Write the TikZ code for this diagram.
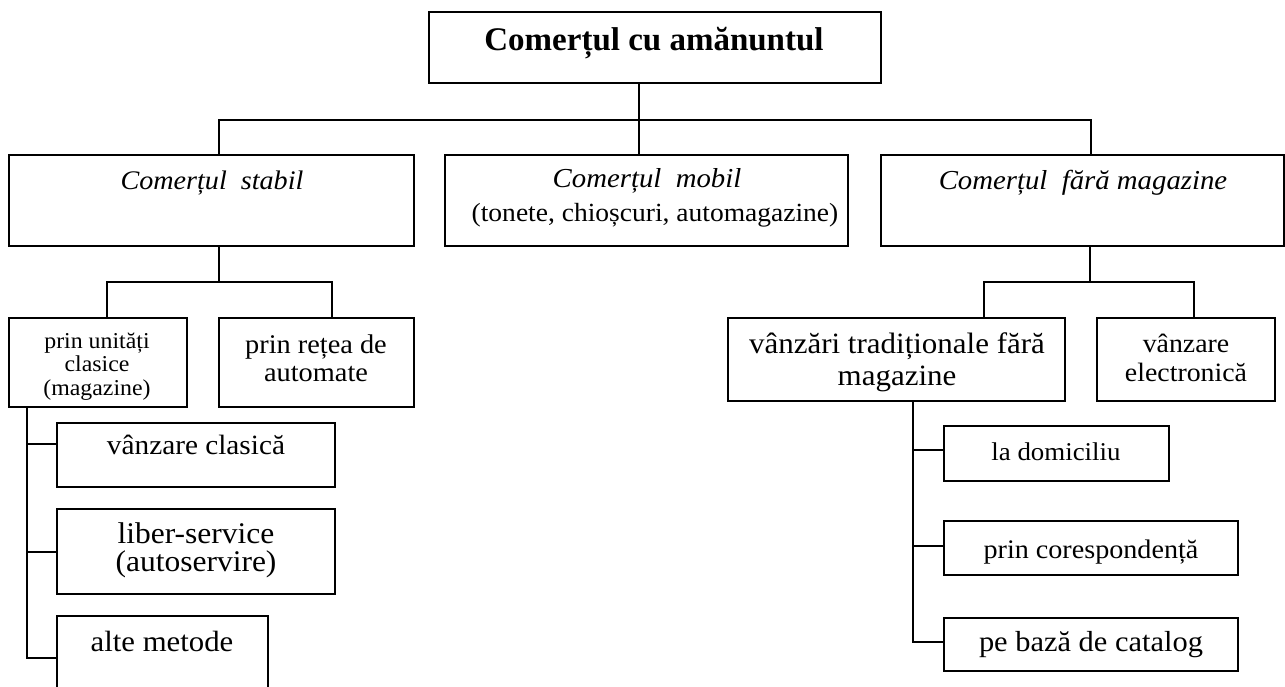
\documentclass[tikz,border=0pt]{standalone}
\usepackage{fontspec}
\setmainfont[FakeStretch=1.05]{Liberation Serif}
\newfontfamily\titlefont{Liberation Serif}
\newcommand\fsz[1]{\fontsize{#1}{#1}\selectfont}
% rectangle node from its corners (x1,y1) to (x2,y2)
\newcommand\boxnode[5]{\node[box, minimum width={#4-#2}, minimum height={#5-#3}] (#1) at ({(#2+#4)/2},{(#3+#5)/2}) {};}
\tikzset{
  box/.style={draw=black, line width=1.6pt, inner sep=0pt, outer sep=0pt},
  txt/.style={inner sep=0pt, outer sep=0pt, anchor=base, text=black},
  link/.style={draw=black, line width=1.6pt},
}
\begin{document}
\begin{tikzpicture}[x=1pt, y=-1pt]
\clip (0,0) rectangle (1285,686);
\fill[white] (0,0) rectangle (1285,686);

% boxes
\boxnode{root}{429}{12}{881}{83}
\boxnode{stabil}{9}{155}{414}{246}
\boxnode{mobil}{445}{155}{848}{246}
\boxnode{fara}{881}{155}{1284}{246}
\boxnode{unit}{9}{318}{187}{407}
\boxnode{retea}{219}{318}{414}{407}
\boxnode{trad}{728}{318}{1065}{401}
\boxnode{elec}{1097}{318}{1275}{401}
\boxnode{clasica}{57}{423}{335}{487}
\boxnode{liber}{57}{509}{335}{594}
\boxnode{alte}{57}{616}{268}{700}
\boxnode{domic}{944}{426}{1169}{481}
\boxnode{coresp}{944}{521}{1238}{575}
\boxnode{catalog}{944}{618}{1238}{671}

% texts
\node[txt, font=\titlefont\bfseries\fsz{33}] (tRoot) at (654,50) {Comerțul cu amănuntul};
\node[txt, font=\itshape\fsz{26.8}] (tStabil) at (212,189) {Comerțul~~stabil};
\node[txt, font=\itshape\fsz{27.4}] (tMobil1) at (647,187) {Comerțul~~mobil};
\node[txt, font=\fsz{26.2}] (tMobil2) at (655,221) {(tonete, chioșcuri, automagazine)};
\node[txt, font=\itshape\fsz{27.4}] (tFara) at (1083,189) {Comerțul~~fără magazine};
\node[txt, font=\fsz{22.7}] (tUnit1) at (97,348) {prin unități};
\node[txt, font=\fsz{22.7}] (tUnit2) at (97,371.5) {clasice};
\node[txt, font=\fsz{22.7}] (tUnit3) at (97,395) {(magazine)};
\node[txt, font=\fsz{27}] (tRetea1) at (316,353) {prin rețea de};
\node[txt, font=\fsz{27}] (tRetea2) at (316,381) {automate};
\node[txt, font=\fsz{29.5}] (tTrad1) at (897,353) {vânzări tradiționale fără};
\node[txt, font=\fsz{29.5}] (tTrad2) at (897,385) {magazine};
\node[txt, font=\fsz{26.5}] (tElec1) at (1186,352) {vânzare};
\node[txt, font=\fsz{26.5}] (tElec2) at (1186,381) {electronică};
\node[txt, font=\fsz{27.9}] (tClasica) at (196,454) {vânzare clasică};
\node[txt, font=\fsz{30}] (tLiber1) at (196,543) {liber-service};
\node[txt, font=\fsz{30}] (tLiber2) at (196,571) {(autoservire)};
\node[txt, font=\fsz{29.3}] (tAlte) at (162,651) {alte metode};
\node[txt, font=\fsz{25.6}] (tDomic) at (1056,460) {la domiciliu};
\node[txt, font=\fsz{26.8}] (tCoresp) at (1091,558) {prin corespondență};
\node[txt, font=\fsz{29}] (tCatalog) at (1091,651) {pe bază de catalog};

% junction points of the tree
\coordinate (jS) at (219,120);
\coordinate (jM) at (639,120);
\coordinate (jF) at (1091,120);
\coordinate (kS) at (219,282);
\coordinate (kU) at (107,282);
\coordinate (kR) at (332,282);
\coordinate (kF) at (1090,282);
\coordinate (kT) at (984,282);
\coordinate (kE) at (1194,282);
\coordinate (L) at (27,0);
\coordinate (R) at (913,0);
\coordinate (t1) at (0,444);
\coordinate (t2) at (0,552);
\coordinate (t3) at (0,658);
\coordinate (r1) at (0,450);
\coordinate (r2) at (0,546);
\coordinate (r3) at (0,642);

% connectors
\draw[link] (root.south -| jM) -- (mobil.north -| jM);
\draw[link] (stabil.north -| jS) -- (jS) -- (jF) -- (fara.north -| jF);
\draw[link] (stabil.south -| kS) -- (kS);
\draw[link] (unit.north -| kU) -- (kU) -- (kR) -- (retea.north -| kR);
\draw[link] (fara.south -| kF) -- (kF);
\draw[link] (trad.north -| kT) -- (kT) -- (kE) -- (elec.north -| kE);
\draw[link] (unit.south -| L) -- (L |- t3) -- (alte.west |- t3);
\draw[link] (L |- t1) -- (clasica.west |- t1);
\draw[link] (L |- t2) -- (liber.west |- t2);
\draw[link] (trad.south -| R) -- (R |- r3) -- (catalog.west |- r3);
\draw[link] (R |- r1) -- (domic.west |- r1);
\draw[link] (R |- r2) -- (coresp.west |- r2);
\end{tikzpicture}
\end{document}
